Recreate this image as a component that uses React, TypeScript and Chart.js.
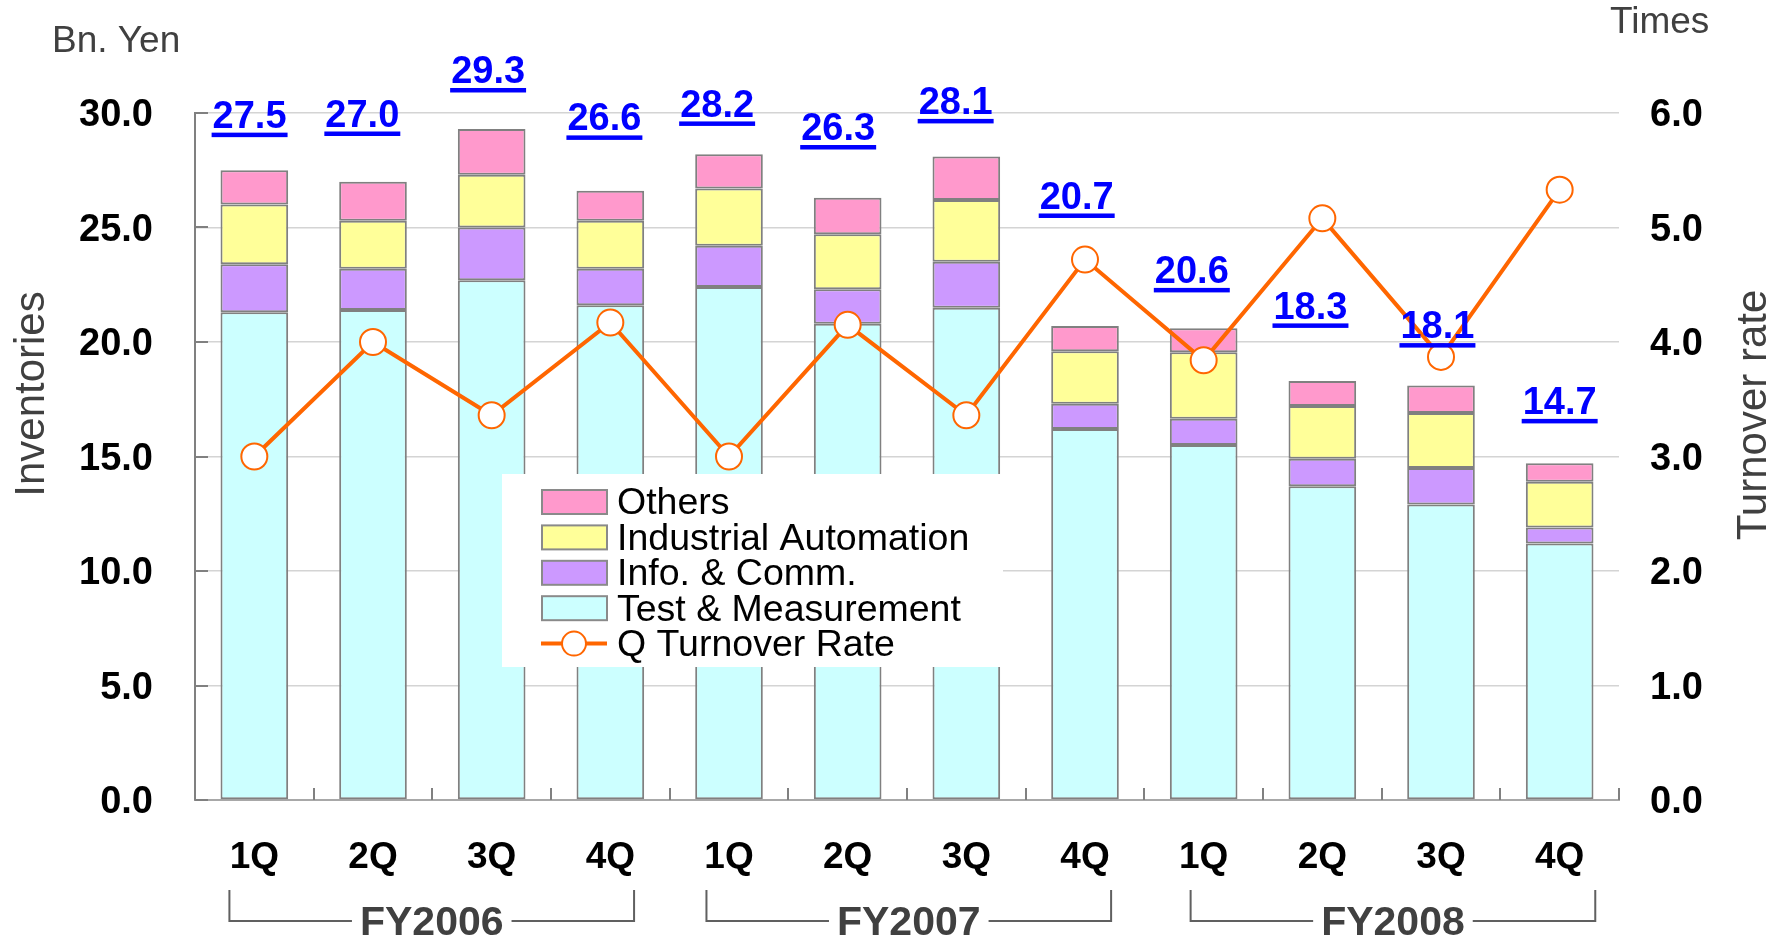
import React, { useEffect, useRef } from 'react';
import { Chart, registerables } from 'chart.js';

Chart.register(...registerables);

const FONT = '"Liberation Sans", Arial, Helvetica, sans-serif';

const categories = ['1Q', '2Q', '3Q', '4Q', '1Q', '2Q', '3Q', '4Q', '1Q', '2Q', '3Q', '4Q'];
const fiscalYears = ['FY2006', 'FY2007', 'FY2008'];
const quartersPerYear = 4;
const fyBracketShift = [0, 0.02, 0.1];

const testMeasurement = [21.3, 21.4, 22.7, 21.6, 22.4, 20.8, 21.5, 16.2, 15.5, 13.7, 12.9, 11.2];
const infoComm = [2.1, 1.8, 2.3, 1.6, 1.8, 1.5, 2.0, 1.1, 1.15, 1.2, 1.6, 0.7];
const industrialAutomation = [2.6, 2.1, 2.3, 2.1, 2.5, 2.4, 2.7, 2.3, 2.9, 2.3, 2.4, 2.0];
const others = [1.5, 1.7, 2.0, 1.3, 1.5, 1.6, 1.9, 1.1, 1.05, 1.1, 1.2, 0.8];
const turnoverRate = [3.0, 4.0, 3.36, 4.17, 3.0, 4.15, 3.36, 4.72, 3.84, 5.08, 3.87, 5.33];

// where each total label sits (value on the left axis, and shift in category widths)
const totalLabelY = [29.95, 30.0, 31.9, 29.83, 30.44, 29.41, 30.55, 26.42, 23.17, 21.62, 20.76, 17.45];
const totalLabelDx = [-0.04, -0.09, -0.03, -0.05, -0.1, -0.08, -0.09, -0.07, -0.1, -0.1, -0.03, 0];

const leftAxisMax = 30;
const leftAxisStep = 5;
const rightAxisMax = 6;
const rightAxisStep = 1;

const COLORS = {
  tm: '#CCFFFF',
  ic: '#CC99FF',
  ia: '#FFFF99',
  others: '#FF99CC',
  line: '#FF6600',
  barBorder: '#808080',
  label: '#0000FF',
};

const totals = testMeasurement.map((v, i) =>
  (v + infoComm[i] + industrialAutomation[i] + others[i]).toFixed(1)
);

const decorations = {
  id: 'decorations',
  beforeDatasetsDraw(chart: any) {
    const { ctx, chartArea, scales } = chart;
    const x = scales.x;
    const y = scales.y;
    ctx.save();
    ctx.strokeStyle = '#808080';
    ctx.lineWidth = 2;
    // small inward ticks on the left axis
    y.ticks.forEach((t: any) => {
      const py = Math.round(y.getPixelForValue(t.value));
      ctx.beginPath();
      ctx.moveTo(chartArea.left, py);
      ctx.lineTo(chartArea.left + 13, py);
      ctx.stroke();
    });
    // upward ticks on the category boundaries
    const catW = x.getPixelForValue(1) - x.getPixelForValue(0);
    for (let i = 0; i <= categories.length; i++) {
      const px = Math.round(x.getPixelForValue(0) - catW / 2 + i * catW);
      ctx.beginPath();
      ctx.moveTo(px, chartArea.bottom);
      ctx.lineTo(px, chartArea.bottom - 12);
      ctx.stroke();
    }
    ctx.restore();
  },
  afterDraw(chart: any) {
    const { ctx, scales } = chart;
    const x = scales.x;
    const y = scales.y;
    const catW = x.getPixelForValue(1) - x.getPixelForValue(0);
    ctx.save();

    // total labels (blue, bold, underlined)
    ctx.font = `bold 38px ${FONT}`;
    ctx.fillStyle = COLORS.label;
    ctx.textAlign = 'center';
    ctx.textBaseline = 'alphabetic';
    totals.forEach((t, i) => {
      const cx = x.getPixelForValue(i) + totalLabelDx[i] * catW;
      const mid = y.getPixelForValue(totalLabelY[i]);
      const base = mid + 0.358 * 38;
      ctx.fillText(t, cx, base);
      const w = ctx.measureText(t).width;
      ctx.fillRect(cx - w / 2 - 1, mid + 18.5, w + 2, 4.5);
    });

    // legend box
    const lx = 502, ly = 474, lw = 501, lh = 193;
    ctx.fillStyle = '#ffffff';
    ctx.fillRect(lx, ly, lw, lh);
    const items = [
      { label: 'Others', color: COLORS.others, type: 'box' },
      { label: 'Industrial Automation', color: COLORS.ia, type: 'box' },
      { label: 'Info. & Comm.', color: COLORS.ic, type: 'box' },
      { label: 'Test & Measurement', color: COLORS.tm, type: 'box' },
      { label: 'Q Turnover Rate', color: COLORS.line, type: 'line' },
    ];
    ctx.font = `37.5px ${FONT}`;
    ctx.textAlign = 'left';
    ctx.textBaseline = 'middle';
    items.forEach((it, i) => {
      const cy = 502 + i * 35.4;
      if (it.type === 'box') {
        ctx.fillStyle = it.color;
        ctx.fillRect(542, cy - 12, 65, 24);
        ctx.strokeStyle = '#8a8a8a';
        ctx.lineWidth = 2;
        ctx.strokeRect(542, cy - 12, 65, 24);
      } else {
        ctx.strokeStyle = it.color;
        ctx.lineWidth = 4;
        ctx.beginPath();
        ctx.moveTo(541, cy);
        ctx.lineTo(607, cy);
        ctx.stroke();
        ctx.beginPath();
        ctx.arc(574, cy, 12, 0, Math.PI * 2);
        ctx.fillStyle = '#ffffff';
        ctx.fill();
        ctx.lineWidth = 2;
        ctx.stroke();
      }
      ctx.fillStyle = '#000000';
      ctx.fillText(it.label, 617, cy + 2);
    });

    // fiscal year brackets
    ctx.strokeStyle = '#606060';
    ctx.lineWidth = 2;
    ctx.font = `bold 41px ${FONT}`;
    ctx.textAlign = 'center';
    ctx.textBaseline = 'alphabetic';
    fiscalYears.forEach((fy, g) => {
      const first = g * quartersPerYear;
      const last = first + quartersPerYear - 1;
      const left = x.getPixelForValue(first) + (fyBracketShift[g] - 0.21) * catW;
      const right = x.getPixelForValue(last) + (fyBracketShift[g] + 0.2) * catW;
      const mid = (left + right) / 2;
      const tw = ctx.measureText(fy).width;
      const hy = 921;
      ctx.beginPath();
      ctx.moveTo(left, 890);
      ctx.lineTo(left, hy);
      ctx.lineTo(mid - tw / 2 - 8, hy);
      ctx.moveTo(mid + tw / 2 + 8, hy);
      ctx.lineTo(right, hy);
      ctx.lineTo(right, 890);
      ctx.stroke();
      ctx.fillStyle = '#404040';
      ctx.fillText(fy, mid, 935);
    });

    // axis titles
    ctx.fillStyle = '#404040';
    ctx.font = `37px ${FONT}`;
    ctx.textAlign = 'left';
    ctx.textBaseline = 'alphabetic';
    ctx.fillText('Bn. Yen', 52, 52);
    ctx.fillText('Times', 1610, 33);

    ctx.save();
    ctx.font = `42px ${FONT}`;
    ctx.translate(44, 394);
    ctx.rotate(-Math.PI / 2);
    ctx.textAlign = 'center';
    ctx.fillText('Inventories', 0, 0);
    ctx.restore();

    ctx.save();
    ctx.font = `42px ${FONT}`;
    ctx.translate(1766, 415);
    ctx.rotate(-Math.PI / 2);
    ctx.textAlign = 'center';
    ctx.fillText('Turnover rate', 0, 0);
    ctx.restore();

    ctx.restore();
  },
};

export default function App() {
  const ref = useRef<HTMLCanvasElement>(null);

  useEffect(() => {
    const canvas = ref.current;
    if (!canvas) return;
    const barCommon = {
      type: 'bar' as const,
      yAxisID: 'y',
      borderColor: COLORS.barBorder,
      borderWidth: 2,
      borderSkipped: false as const,
      barPercentage: 0.57,
      categoryPercentage: 1,
      order: 1,
    };
    const chart = new Chart(canvas, {
      type: 'bar',
      data: {
        labels: categories,
        datasets: [
          { ...barCommon, label: 'Test & Measurement', data: testMeasurement, backgroundColor: COLORS.tm },
          { ...barCommon, label: 'Info. & Comm.', data: infoComm, backgroundColor: COLORS.ic },
          { ...barCommon, label: 'Industrial Automation', data: industrialAutomation, backgroundColor: COLORS.ia },
          { ...barCommon, label: 'Others', data: others, backgroundColor: COLORS.others },
          {
            type: 'line' as const,
            label: 'Q Turnover Rate',
            data: turnoverRate,
            yAxisID: 'y1',
            borderColor: COLORS.line,
            borderWidth: 4,
            pointRadius: 13,
            pointBackgroundColor: '#ffffff',
            pointBorderColor: COLORS.line,
            pointBorderWidth: 2,
            tension: 0,
            fill: false,
            order: 0,
          } as any,
        ],
      },
      options: {
        responsive: false,
        animation: false,
        devicePixelRatio: 1,
        layout: { padding: { top: 113, left: 0, right: 0, bottom: 0 } },
        plugins: {
          legend: { display: false },
          tooltip: { enabled: false },
          title: { display: false },
        },
        scales: {
          x: {
            stacked: true,
            offset: true,
            grid: { display: false, drawTicks: false },
            border: { display: true, color: '#a8a8a8', width: 2 },
            ticks: {
              color: '#000000',
              font: { family: FONT, size: 37, weight: 'bold' },
              padding: 36,
              maxRotation: 0,
              autoSkip: false,
            },
            afterFit: (s: any) => {
              s.height = 137;
            },
          },
          y: {
            stacked: true,
            position: 'left',
            min: 0,
            max: leftAxisMax,
            ticks: {
              stepSize: leftAxisStep,
              color: '#000000',
              font: { family: FONT, size: 38, weight: 'bold' },
              padding: 42,
              labelOffset: 3,
              callback: (v: any) => Number(v).toFixed(1),
            },
            grid: { color: '#d4d4d4', lineWidth: 1.5, drawTicks: false },
            border: { display: true, color: '#808080', width: 2 },
            afterFit: (s: any) => {
              s.width = 195;
            },
          },
          y1: {
            position: 'right',
            min: 0,
            max: rightAxisMax,
            ticks: {
              stepSize: rightAxisStep,
              color: '#000000',
              font: { family: FONT, size: 38, weight: 'bold' },
              padding: 31,
              labelOffset: 3,
              callback: (v: any) => Number(v).toFixed(1),
            },
            grid: { display: false, drawTicks: false },
            border: { display: false },
            afterFit: (s: any) => {
              s.width = 158;
            },
          },
        },
      } as any,
      plugins: [decorations],
    });
    return () => chart.destroy();
  }, []);

  return (
    <div style={{ position: 'absolute', left: 0, top: 0, width: 1777, height: 937, background: '#ffffff' }}>
      <canvas ref={ref} width={1777} height={937} style={{ display: 'block', width: 1777, height: 937 }} />
    </div>
  );
}
